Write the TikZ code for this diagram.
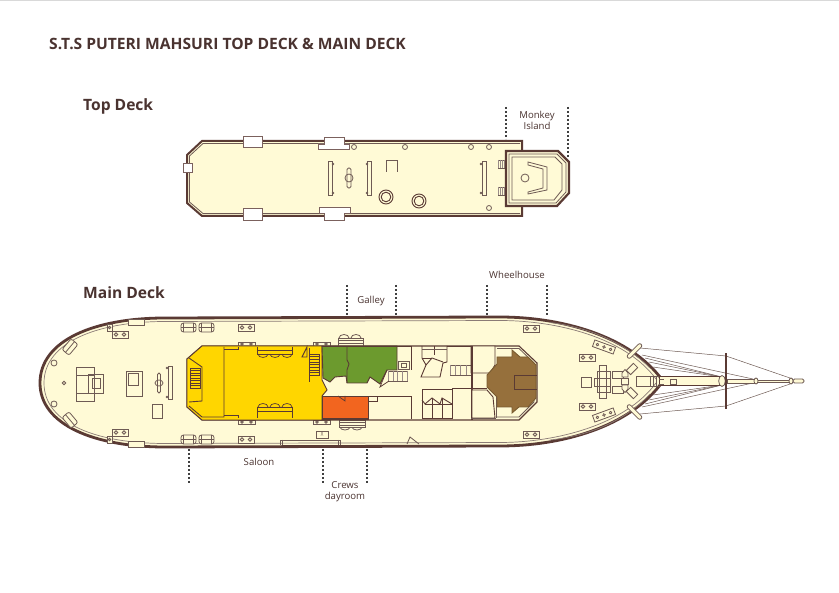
\documentclass[tikz,border=0pt]{standalone}
\usepackage{fontspec}
\setmainfont{Open Sans}
\usetikzlibrary{calc}
\definecolor{hullbrown}{HTML}{5A3A34}
\definecolor{fitline}{HTML}{6E5A54}
\definecolor{cream}{HTML}{FFFAD6}
\definecolor{saloon}{HTML}{FFD600}
\definecolor{galley}{HTML}{6C9A2E}
\definecolor{dayroom}{HTML}{F2651F}
\definecolor{wheelhouse}{HTML}{96703C}
\definecolor{inktext}{HTML}{4A3330}
\tikzset{
	hull/.style={draw=hullbrown,line width=2.8pt,fill=cream,line join=miter},
	wall/.style={draw=hullbrown,line width=0.9pt},
	fit/.style={draw=fitline,line width=0.8pt},
	fitfill/.style={draw=fitline,line width=0.8pt,fill=cream},
	whitebox/.style={draw=hullbrown!80,line width=1pt,fill=white},
	rail/.style={draw=fitline!80,line width=0.7pt},
	stay/.style={draw=fitline,line width=0.5pt},
	leader/.style={draw=black!75,line width=1.3pt,dash pattern=on 2pt off 2pt},
	heading/.style={font=\bfseries\fontsize{15.6}{18}\selectfont,text=inktext,anchor=west,inner sep=0pt},
	tag/.style={font=\fontsize{9.6}{11}\selectfont,text=inktext,align=center,inner sep=0pt}
}
\newcommand{\bitt}[2]{
	\draw[fitfill] (#1,#2) rectangle ++(16,7);
	\draw[fit] ($(#1,#2)+(4,3.5)$) circle (1.7) ($(#1,#2)+(12,3.5)$) circle (1.7);
}
\newcommand{\bench}[2]{
	\draw[fitfill,rounded corners=2.5pt] (#1,#2) rectangle ++(15,9);
	\draw[fit] ($(#1,#2)+(2.5,0)$)--++(0,9) ($(#1,#2)+(12.5,0)$)--++(0,9) ($(#1,#2)+(0,4.5)$)--++(15,0);
}
\newcommand{\treads}[4]{
	\draw[fit] (#1,#2) rectangle (#3,#4);
	\foreach \t in {0,0.25,...,1.01} { \draw[draw=fitline!70,line width=0.4pt] ($(#1,#2)!\t!(#3,#2)$)--($(#1,#4)!\t!(#3,#4)$); }
}
\newcommand{\hbars}[4]{
	\draw[wall,line width=0.7pt] (#1,#2) rectangle (#3,#4);
	\foreach \t in {0,0.125,...,1.01} { \draw[wall,line width=0.4pt] ($(#1,#2)!\t!(#1,#4)$)--($(#3,#2)!\t!(#3,#4)$); }
}
\begin{document}
\begin{tikzpicture}[x=1pt,y=-1pt]
	\useasboundingbox[fill=white] (0,0) rectangle (839,593);
	\draw[black!15,line width=0.5pt] (0,0.3)--(839,0.3);

	% titles
	\node[heading] (title)	at (49,44)	{S.T.S PUTERI MAHSURI TOP DECK \& MAIN DECK};
	\node[heading] (topdeck)	at (83,106.5)	{Top Deck};
	\node[heading] (maindeck)	at (83,292.5)	{Main Deck};
	\node[tag] (monkey)	at (537,120.5)	{Monkey\\Island};
	\node[tag] (galleytag)	at (371,301)	{Galley};
	\node[tag] (wheeltag)	at (517,275)	{Wheelhouse};
	\node[tag] (saloontag)	at (259,462)	{Saloon};
	\node[tag] (crews)	at (345,492)	{Crews\\dayroom};

	% leaders
	\foreach \x/\a/\b in {506/107/139,568/107/158,347/285/316,396/285/316,487/285/316,547/285/316,189/449/483,323/449/483,367/449/483} {
		\draw[leader] (\x,\a)--(\x,\b);
	}

	% top deck
	\draw[draw=hullbrown,line width=2pt,fill=cream] (202,141)--(522,141)--(522,216)--(202,216)--(187,203)--(187,155)--cycle;
	\draw[fit] (203,143.5)--(520,143.5) (189.5,156)--(203,143.5) (189.5,156)--(189.5,202)--(203,213.5)--(520,213.5);
	\draw[whitebox] (243,137) rectangle (262,148);
	\draw[whitebox] (243,209) rectangle (262,221);
	\draw[whitebox,line width=0.8pt] (183,163) rectangle (192,172);
	\draw[whitebox,line width=0.8pt] (324,144)--(324,137)--(344,137)--(344,144)--(349,144)--(349,149)--(318,149)--(318,144)--cycle;
	\draw[whitebox,line width=0.8pt] (319,207)--(350,207)--(350,213)--(344,213)--(344,220)--(324,220)--(324,213)--(319,213)--cycle;
	\foreach \x in {328,367,482} { \draw[fitfill] (\x,161) rectangle ++(4,34); }
	\foreach \x/\y in {333/164,333/193,367/164,367/193,481/164,481/193} { \fill[fitline] (\x,\y) circle (1.3); }
	\draw[fit,rounded corners=1.5pt] (347,168) rectangle (351,188);
	\draw[fit] (349,178) circle (4);
	\foreach \x/\y in {354/147,405/147,471/147,489/147,489/208} { \draw[fit] (\x,\y) circle (2.5); }
	\draw[fit] (386,172)--(386,160)--(397,160)--(397,172);
	\foreach \x/\y in {386/197,419/201} {
		\draw[hullbrown,line width=0.9pt] (\x,\y) circle (7);
		\draw[hullbrown,line width=0.9pt] (\x,\y) circle (4.8);
	}
	\foreach \y/\e in {160/168,187/195} { \treads{498}{\y}{506}{\e} }

	% monkey island
	\draw[draw=hullbrown,line width=2.2pt,fill=cream] (506,151)--(558,151)--(569,162)--(569,193)--(557,206)--(506,206)--cycle;
	\draw[fit,fill=cream] (509,154)--(557,154)--(566,163)--(566,192)--(556,203)--(509,203)--cycle;
	\draw[fit] (512,157)--(555,157)--(562,164)--(562,190)--(554,200)--(512,200)--cycle;
	\draw[fit] (528,162)--(547,167)--(547,190)--(528,194)--(528,192)--(543,188)--(543,169)--(528,165)--cycle;
	\draw[fit] (525,178) circle (4);

	% hull
	\path[hull] (165,318)--(500,317) .. controls (560,317) and (630,335) .. (663,381)
		.. controls (630,428) and (560,446) .. (500,446)--(165,447)
		.. controls (95,447) and (40,425) .. (40,383)
		.. controls (40,340) and (95,318) .. (165,318)--cycle;
	\draw[rail] (165,321.5)--(500,320.5) .. controls (556,320.5) and (625,337) .. (656,379);
	\draw[rail] (165,443.5)--(500,442.5) .. controls (556,442.5) and (625,425) .. (656,383);
	\draw[rail] (165,321.5) .. controls (98,321.5) and (44,342) .. (44,383) .. controls (44,424) and (98,443.5) .. (165,443.5);
	\draw[rail] (550,322.5) .. controls (585,327) and (622,340) .. (650,368);
	\draw[rail] (550,440) .. controls (585,436) and (622,424) .. (650,394);

	% foredeck of the plan, left end
	\foreach \x/\y in {128/319,128/441} { \draw[fitfill] (\x,\y) rectangle ++(16,6); }
	\foreach \x/\y in {112/331,112/429,238/324,238/436,523/325,523/431,579/354,579/403} { \bitt{\x}{\y} }
	\foreach \x/\y in {107/324,107/436} { \draw[fitfill] (\x,\y) rectangle ++(5,7); \draw[fit] (\x+2.5,\y+3.5) circle (1.2); }
	\foreach \x/\y in {181/323,199/323,181/435,199/435} { \bench{\x}{\y} }
	\foreach \x/\y/\r in {70/347/50,70/420/-50} {
		\draw[fitfill,rounded corners=2pt,rotate around={\r:(\x,\y)}] (\x-7,\y-4.5) rectangle (\x+7,\y+4.5);
		\draw[fit,rotate around={\r:(\x,\y)}] (\x-7,\y)--(\x+7,\y);
	}
	\foreach \x/\y in {54/363,54/404} { \draw[fit] (\x,\y) circle (3); }
	\draw[fit] (64,383) circle (1.8);
	\draw[fit] (76,367) rectangle (94,401);
	\draw[fit] (76,375)--(94,375) (76,393)--(94,393);
	\draw[fit] (88,374) rectangle (103,393);
	\draw[fit] (92,378) rectangle (100,388);
	\draw[fit] (126,371) rectangle (142,396);
	\draw[fit] (128,373) rectangle (138,385);
	\draw[fitfill] (168,366) rectangle (172,399);
	\foreach \y in {368,397} { \fill[fitline] (167,\y) circle (1.3); }
	\draw[fit,rounded corners=1.5pt] (157.5,373) rectangle (160.5,393);
	\draw[fit] (159,383) ellipse (4 and 3);
	\draw[fit] (152,404) rectangle (162,418);
	\draw[fit] (280,445)--(280,440)--(340,440)--(340,445) (282,440)--(282,445) (338,440)--(338,445);
	\draw[fitfill] (316,431) rectangle (328,438);
	\node[font=\fontsize{5}{5}\selectfont,text=fitline,inner sep=0pt] (scuttle) at (322,434.5) {)(};
	\draw[fit] (407,444)--(410,437)--(419,444);

	% boxes against the deckhouse
	\foreach \x in {238,313} {
		\draw[fitfill] (\x,342) rectangle ++(17,4);
		\draw[fitfill] (\x,420) rectangle ++(17,4);
		\draw[fit] (\x+4,344) circle (1.3) (\x+13,344) circle (1.3) (\x+4,422) circle (1.3) (\x+13,422) circle (1.3);
	}
	\foreach \x in {344,356} {
		\draw[fit] (\x-5,338) arc (180:360:5 and 3.5);
		\draw[fit] (\x-4,427) arc (180:0:5 and 3);
	}
	\draw[fitfill] (338,338) rectangle (363,346);
	\draw[fitfill] (339,420) rectangle (365,427);
	\foreach \y in {340.5,343} { \draw[fit] (338,\y)--(363,\y); }
	\foreach \y in {422.5,425} { \draw[fit] (339,\y)--(365,\y); }

	% deckhouse
	\draw[wall,fill=cream,line width=1.1pt] (202,346)--(519,346)--(537,363)--(537,402)--(519,420)--(202,420)--(187,407)--(187,359)--cycle;
	\draw[fit] (472,348)--(495,348) (497,348.5)--(519,348.5)--(534,363)--(534,402)--(519,417)--(497,417);

	% saloon
	\draw[wall,fill=saloon] (202,346)--(322,346)--(322,380)--(327,390)--(322,396)--(322,420)--(202,420)--(187,407)--(187,359)--cycle;
	\draw[wall] (224,347)--(224,417)--(202,417)--(189,406);
	\draw[wall] (189,358)--(202,367)--(202,401)--(189,402);
	\hbars{190}{368}{200}{388}
	\draw[wall] (224,349)--(238,349)--(238,347);
	\draw[wall] (224,415)--(238,415)--(238,418);
	\draw[wall] (257,347)--(257,354)--(292,354)--(292,347);
	\draw[wall] (257,350)--(292,350);
	\draw[wall] (257,407)--(292,407)--(292,418) (257,407)--(257,418) (257,411)--(292,411);
	\foreach \x in {258,270,282} {
		\draw[wall,line width=0.7pt] (\x,354) arc (180:0:5 and 3.5);
		\draw[wall,line width=0.7pt] (\x,407) arc (180:360:5 and 3.5);
	}
	\hbars{309}{354}{319}{375}
	\draw[wall] (309,348)--(309,382);
	\draw[wall] (302,357)--(307,347)--(307,357)--cycle;

	% galley
	\draw[wall,fill=galley] (322,346)--(397,346)--(397,370)--(387,370)--(380,384)--(370,377)--(367,383)--(347,383)--(346,376)--(335,377)--(330,382)--(323,378)--cycle;
	\draw[wall] (347,347)--(347,360)--(349,364)--(347,370)--(347,383);
	\draw[hullbrown,line width=1pt] (322,346.5)--(397,346.5);

	% crews dayroom
	\draw[wall,fill=dayroom] (322,396) rectangle (368,419);
	\draw[wall,line width=0.7pt] (338,396)--(345,401)--(345,396);
	\draw[wall] (322,418.5)--(368,418.5);

	% cabins amidships
	\draw[wall] (368,396)--(411,396)--(411,419);
	\draw[wall] (368,401)--(377,401)--(377,396);
	\draw[wall] (397,346)--(411,346)--(411,370);
	\draw[fit] (398,361)--(409,361)--(409,369)--(398,369)--cycle;
	\draw[fit] (401,363) rectangle (406,367);
	\treads{388}{371}{407}{381}
	\draw[wall,line width=0.7pt] (387,370)--(380,387)--(389,381);
	\draw[wall] (422,346)--(422,358)--(426,365)--(421,377)--(440,377)--(443,363)--(447,362)--(447,346);
	\draw[wall] (426,365)--(432,358)--(443,362);
	\draw[wall] (422,358)--(432,358);
	\draw[wall] (434,346)--(434,355);
	\draw[fit] (422,349)--(447,349);
	\treads{450}{365}{471}{375}
	\draw[wall] (447,346)--(471,346);
	\draw[wall] (422,389) rectangle (452,418);
	\draw[wall] (422,400)--(425,404)--(432,398)--(440,404)--(442,398)--(452,404);
	\draw[wall] (432,398)--(432,418) (442,398)--(442,418) (425,404)--(452,404);
	\draw[wall] (452,388)--(487,388);

	% wheelhouse cabins
	\draw[wall,fill=cream] (471,346)--(495,346)--(495,365)--(490,373)--(472,373)--(471,373)--cycle;
	\draw[wall] (472,346)--(472,420) (471,346)--(471,420);
	\draw[wall,fill=cream] (472,390)--(487,390)--(493,397)--(495,418)--(472,418)--cycle;
	\draw[fit] (471,418.5)--(496,418.5) (496,397)--(496,418);

	% wheelhouse
	\draw[wall,draw=wheelhouse!80!black,fill=wheelhouse] (512,350)--(520,357)--(528,357)--(536,365)--(536,398)--(528,407)--(519,407)--(512,413)--(512,407)--(497,407)--(497,397)--(487,387)--(487,375)--(497,364)--(497,357)--(512,357)--cycle;
	\draw[hullbrown,line width=0.9pt] (537,375)--(514,375)--(514,389)--(537,389);

	% forepeak of the plan, right end
	\foreach \y/\r in {347/-20,415/20} {
		\draw[fitfill,rotate around={\r:(604,\y)}] (593,\y-3.5) rectangle (615,\y+3.5);
		\foreach \d in {-7,0,7} { \draw[fit,rotate around={\r:(604,\y)}] (604+\d,\y) circle (1.3); }
	}
	\draw[fit] (581,377) rectangle (591,387);
	\draw[fit] (599,365) rectangle (606,398);
	\draw[fit] (597,371) rectangle (610,392);
	\draw[fit] (594,378) rectangle (610,386);
	\draw[fit] (612,371) rectangle (623,378);
	\draw[fit] (612,386) rectangle (623,393);
	\draw[fit] (621,378) rectangle (628,384);
	\draw[fitfill] (622,373)--(625,369.5)--(628,373)--(628,377)--(622,377)--cycle;
	\draw[fitfill] (622,389)--(625,392.5)--(628,389)--(628,385)--(622,385)--cycle;
	\draw[fitfill,rotate around={45:(632,369)}] (627,366) rectangle (637,372);
	\draw[fitfill,rotate around={-45:(632,393)}] (627,390) rectangle (637,396);
	\draw[fit] (636,376) rectangle (650,386);
	\draw[fit] (650,376) rectangle (659,386);
	\draw[fit] (653,376)--(653,386) (656,376)--(656,386);

	% bowsprit
	\foreach \a/\b in {645/358,649/362,653/367} {
		\draw[stay] (\a,\b)--(722,377);
		\draw[stay] (\a,762-\b)--(722,385);
	}
	\draw[stay] (640,348)--(726,356)--(790,378);
	\draw[stay] (640,414)--(726,406)--(790,384);
	\draw[stay] (642,355)--(753,379) (642,407)--(753,383);
	\draw[fitfill,rotate around={45:(634.5,351)},rounded corners=2pt] (625,349) rectangle (644,353);
	\draw[fitfill,rotate around={-45:(634.5,412)},rounded corners=2pt] (625,410) rectangle (644,414);
	\draw[fitfill,draw=hullbrown] (659,376.5) rectangle (720,385.5);
	\draw[fit] (659,379)--(664,379) (659,384)--(664,384);
	\draw[fitfill] (670,379) rectangle (676,384);
	\draw[fitfill] (727,379) rectangle (755,383);
	\draw[fitfill] (757,380) rectangle (790,382);
	\draw[fitfill,rounded corners=1.5pt] (793,379) rectangle (804,383);
	\draw[fitfill] (756,381) ellipse (2 and 3);
	\draw[fitfill] (791,381) ellipse (2 and 3);
	\draw[fitfill] (722,381) ellipse (3.3 and 5.5);
	\draw[hullbrown,line width=0.9pt] (725.2,353) rectangle (726.8,408);
\end{tikzpicture}
\end{document}
